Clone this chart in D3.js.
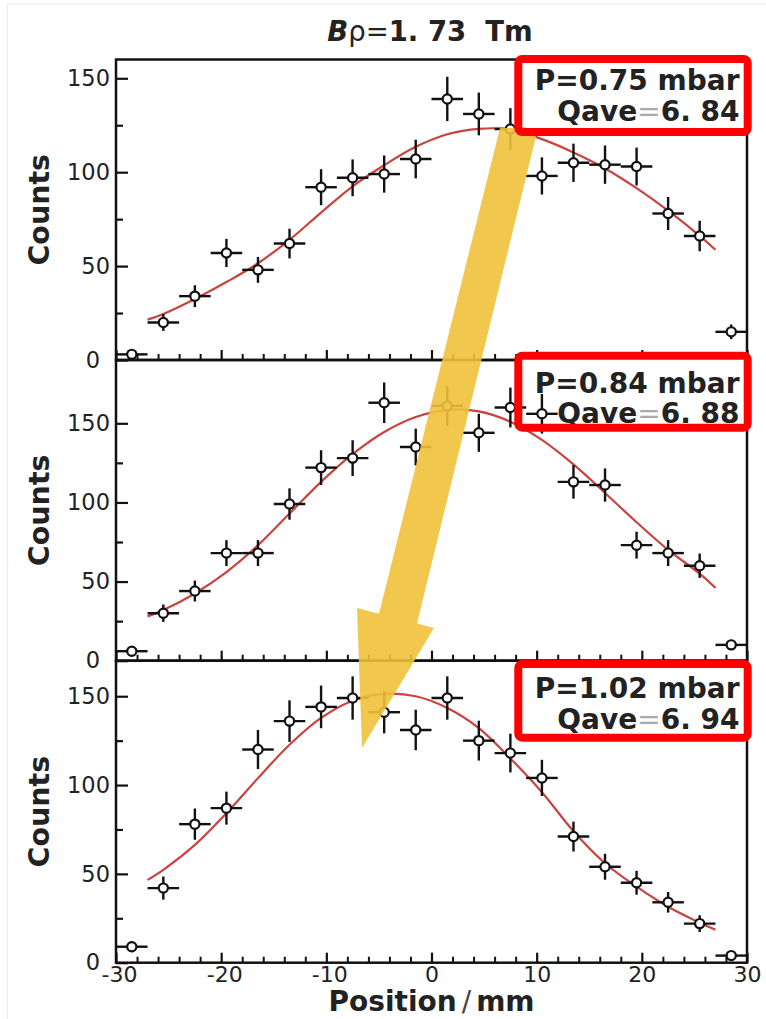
<!DOCTYPE html>
<html><head><meta charset="utf-8">
<script src="https://cdn.jsdelivr.net/npm/d3@7"></script>
<style>body{margin:0;background:#fff}svg{display:block}</style>
</head><body>
<svg id="chart" width="766" height="1019"></svg>
<script>
// ---------- data ----------
const positions = [-28.5,-25.5,-22.5,-19.5,-16.5,-13.5,-10.5,-7.5,-4.5,-1.5,1.5,4.5,7.5,10.5,13.5,16.5,19.5,22.5,25.5,28.5];
const countsP075 = [3,20,34,57,48,62,92,97,99,107,139,131,123,98,105,104,103,78,66,15];
const errorsP075 = [1.7,4.5,5.8,7.5,6.9,7.9,9.6,9.8,9.9,10.3,11.8,11.4,11.1,9.9,10.2,10.2,10.1,8.8,8.1,3.9];
const countsP084 = [6,30,44,68,68,99,122,128,163,135,161,144,160,156,113,111,73,68,60,10];
const errorsP084 = [2.4,5.5,6.6,8.2,8.2,9.9,11,11.3,12.8,11.6,12.7,12,12.6,12.5,10.6,10.5,8.5,8.2,7.7,3.2];
const countsP102 = [9,42,78,87,120,136,144,149,141,131,149,125,118,104,71,54,45,34,22,4];
const errorsP102 = [3,6.5,8.8,9.3,11,11.7,12,12.2,11.9,11.4,12.2,11.2,10.9,10.2,8.4,7.3,6.7,5.8,4.7,2];
const binHalfWidth = 1.5;

const fitPositions = [-27,-25.5,-22.5,-19.5,-16.5,-13.5,-10.5,-7.5,-4.5,-1.5,1.5,4.5,7.5,10.5,13.5,16.5,19.5,22.5,25.5,27];
const fitP075 = [21.5,24.5,32.5,41.5,51.5,64,78.5,92.5,103.7,113.5,120.2,123.1,122.7,117.6,110.5,102,91.5,79.5,66.1,58.7];
const fitP084 = [28,32,42.5,56,73,93,113,130.5,144.5,154,158.5,157.5,151,139.5,124,106,87.5,70,55,46];
const fitP102 = [46.6,52.3,66.3,84.2,103.9,122.7,137.8,147.5,151.3,150,143.4,132.1,115,96,74,56,42.8,31.5,22.5,18.5];

const pressureLabels = ["P=0.75 mbar","P=0.84 mbar","P=1.02 mbar"];
const qaveValues = ["6. 84","6. 88","6. 94"];
const yMaxValues = [160,190,170];
const yTickValues = [0,50,100,150];
const yMinorTickValues = [25,75,125];
const xTickValues = [-30,-20,-10,0,10,20,30];
const xMinorTickValues = [-28,-26,-24,-22,-18,-16,-14,-12,-8,-6,-4,-2,2,4,6,8,12,14,16,18,22,24,26,28];

// ---------- layout ----------
const svg = d3.select("#chart");
const X0 = 116, X1 = 747;
const panelTops = [59.5, 360, 660.7];
const panelBottoms = [360, 660.7, 962.7];
const boxTops = [59, 355.7, 664];
const boxBottoms = [132, 427.7, 737.7];
const textBase1 = [90, 392.7, 698.3];
const textBase2 = [120.7, 422.7, 729];

const x = d3.scaleLinear().domain([-30,30]).range([X0, X1]);

const panels = [
  {counts: countsP075, errors: errorsP075, fit: fitP075},
  {counts: countsP084, errors: errorsP084, fit: fitP084},
  {counts: countsP102, errors: errorsP102, fit: fitP102}
];

const FONT = "'DejaVu Sans', 'Liberation Sans', Arial, sans-serif";

// faint image border
svg.append("line").attr("x1",7).attr("x2",766).attr("y1",4).attr("y2",4).attr("stroke","#ececec").attr("stroke-width",1.2);
svg.append("line").attr("x1",7.5).attr("x2",7.5).attr("y1",4).attr("y2",1019).attr("stroke","#ececec").attr("stroke-width",1.2);

// title
const title = svg.append("text").attr("x", 430).attr("y", 41).attr("text-anchor","middle")
  .attr("font-family", FONT).attr("font-size", 27.5).attr("fill","#222");
title.append("tspan").attr("font-weight","bold").attr("font-style","italic").text("B");
title.append("tspan").attr("font-weight","normal").text("ρ=");
title.append("tspan").attr("font-weight","bold").text("1. 73\u00a0\u00a0Tm");

const layerFrames = svg.append("g");
const layerCurves = svg.append("g");
const layerBoxFill = svg.append("g");
const layerBoxText = svg.append("g");
const layerPoints = svg.append("g");
const layerArrow = svg.append("g");
const layerBoxStroke = svg.append("g");

panels.forEach((p, i) => {
  const y = d3.scaleLinear().domain([0, yMaxValues[i]]).range([panelBottoms[i], panelTops[i]]);
  const g = layerFrames.append("g");

  // y axis major
  const ya = g.append("g").attr("transform", `translate(${X0},0)`)
    .call(d3.axisLeft(y).tickValues(yTickValues).tickSizeInner(-12).tickSizeOuter(0).tickPadding(6).tickFormat(d3.format("d")));
  ya.select(".domain").remove();
  ya.selectAll(".tick line").attr("stroke","#111").attr("stroke-width",2.2);
  ya.selectAll(".tick text").attr("font-family", FONT).attr("font-size", 22.5).attr("fill","#222")
    .attr("dx", d => d === 0 ? -10 : 0);
  // y axis minor
  const ym = g.append("g").attr("transform", `translate(${X0},0)`)
    .call(d3.axisLeft(y).tickValues(yMinorTickValues).tickSizeInner(-7).tickSizeOuter(0).tickFormat(""));
  ym.select(".domain").remove();
  ym.selectAll(".tick line").attr("stroke","#111").attr("stroke-width",2.2);

  // x axis major
  const xa = g.append("g").attr("transform", `translate(0,${panelBottoms[i]})`)
    .call(d3.axisBottom(x).tickValues(xTickValues).tickSizeInner(-10).tickSizeOuter(0).tickPadding(4)
      .tickFormat(i === 2 ? (d => String(d)) : ""));
  xa.select(".domain").remove();
  xa.selectAll(".tick line").attr("stroke","#111").attr("stroke-width",2.2);
  xa.selectAll(".tick text").attr("font-family", FONT).attr("font-size", 22).attr("fill","#222")
    .attr("dx", d => d < 0 ? 3 : 0);
  const xm = g.append("g").attr("transform", `translate(0,${panelBottoms[i]})`)
    .call(d3.axisBottom(x).tickValues(xMinorTickValues).tickSizeInner(-6).tickSizeOuter(0).tickFormat(""));
  xm.select(".domain").remove();
  xm.selectAll(".tick line").attr("stroke","#111").attr("stroke-width",2);

  // frame
  g.append("rect").attr("x", X0).attr("y", panelTops[i]).attr("width", X1 - X0).attr("height", panelBottoms[i] - panelTops[i])
    .attr("fill","none").attr("stroke","#111").attr("stroke-width",2.5);

  // y label
  const cy = (panelTops[i] + panelBottoms[i]) / 2;
  g.append("text").attr("transform", `translate(49,${cy}) rotate(-90)`).attr("text-anchor","middle")
    .attr("font-family", FONT).attr("font-weight","bold").attr("font-size", 28.5).attr("fill","#222").text("Counts");

  // fit curve
  const line = d3.line().x(d => x(d[0])).y(d => y(d[1])).curve(d3.curveCatmullRom.alpha(0.5));
  layerCurves.append("path").datum(fitPositions.map((v, k) => [v, p.fit[k]]))
    .attr("d", line).attr("fill","none").attr("stroke","#c9433f").attr("stroke-width",2.2);

  // box fill + text
  layerBoxFill.append("rect").attr("x", 518.3).attr("y", boxTops[i]).attr("width", 229.4).attr("height", boxBottoms[i] - boxTops[i])
    .attr("fill","#fff");
  layerBoxText.append("text").attr("x", 739.5).attr("y", textBase1[i]).attr("text-anchor","end")
    .attr("font-family", FONT).attr("font-weight","bold").attr("font-size", 28).attr("fill","#222").text(pressureLabels[i]);
  const t2 = layerBoxText.append("text").attr("x", 739.5).attr("y", textBase2[i]).attr("text-anchor","end")
    .attr("font-family", FONT).attr("font-weight","bold").attr("font-size", 28).attr("fill","#222");
  t2.append("tspan").text("Qave");
  t2.append("tspan").attr("font-weight","normal").attr("fill","#aaa").text("=");
  t2.append("tspan").text(qaveValues[i]);

  // points with error bars
  const pts = layerPoints.append("g").selectAll("g").data(positions.map((v, k) => ({x: v, c: p.counts[k], e: p.errors[k]})))
    .join("g");
  pts.append("line").attr("x1", d => x(d.x - binHalfWidth)).attr("x2", d => x(d.x + binHalfWidth))
    .attr("y1", d => y(d.c)).attr("y2", d => y(d.c)).attr("stroke","#111").attr("stroke-width",2.4);
  pts.append("line").attr("x1", d => x(d.x)).attr("x2", d => x(d.x))
    .attr("y1", d => y(d.c - d.e)).attr("y2", d => y(d.c + d.e)).attr("stroke","#111").attr("stroke-width",2.4);
  pts.append("circle").attr("cx", d => x(d.x)).attr("cy", d => y(d.c)).attr("r", 4.6)
    .attr("fill","#fff").attr("stroke","#111").attr("stroke-width",2.2);

  // box stroke
  layerBoxStroke.append("rect").attr("x", 518.3).attr("y", boxTops[i]).attr("width", 229.4).attr("height", boxBottoms[i] - boxTops[i])
    .attr("rx", 4).attr("fill","none").attr("stroke","#ff0000").attr("stroke-width",8);
});

// x label
const xl = svg.append("text").attr("x", 431.5).attr("y", 1011).attr("text-anchor","middle")
  .attr("font-family", FONT).attr("font-weight","bold").attr("font-size", 28).attr("fill","#222");
xl.append("tspan").text("Position");
xl.append("tspan").attr("font-weight","normal").attr("fill","#444").attr("dx", 5).text("/");
xl.append("tspan").attr("dx", 5).text("mm");

// yellow arrow annotation
const arrowPts = [[500,128],[538,128],[417,623.5],[434,628],[362,748],[357,608],[379,613.7]];
layerArrow.append("path").attr("d", d3.line()(arrowPts) + "Z").attr("fill","#efc13b").attr("opacity",0.9);
</script>
</body></html>
